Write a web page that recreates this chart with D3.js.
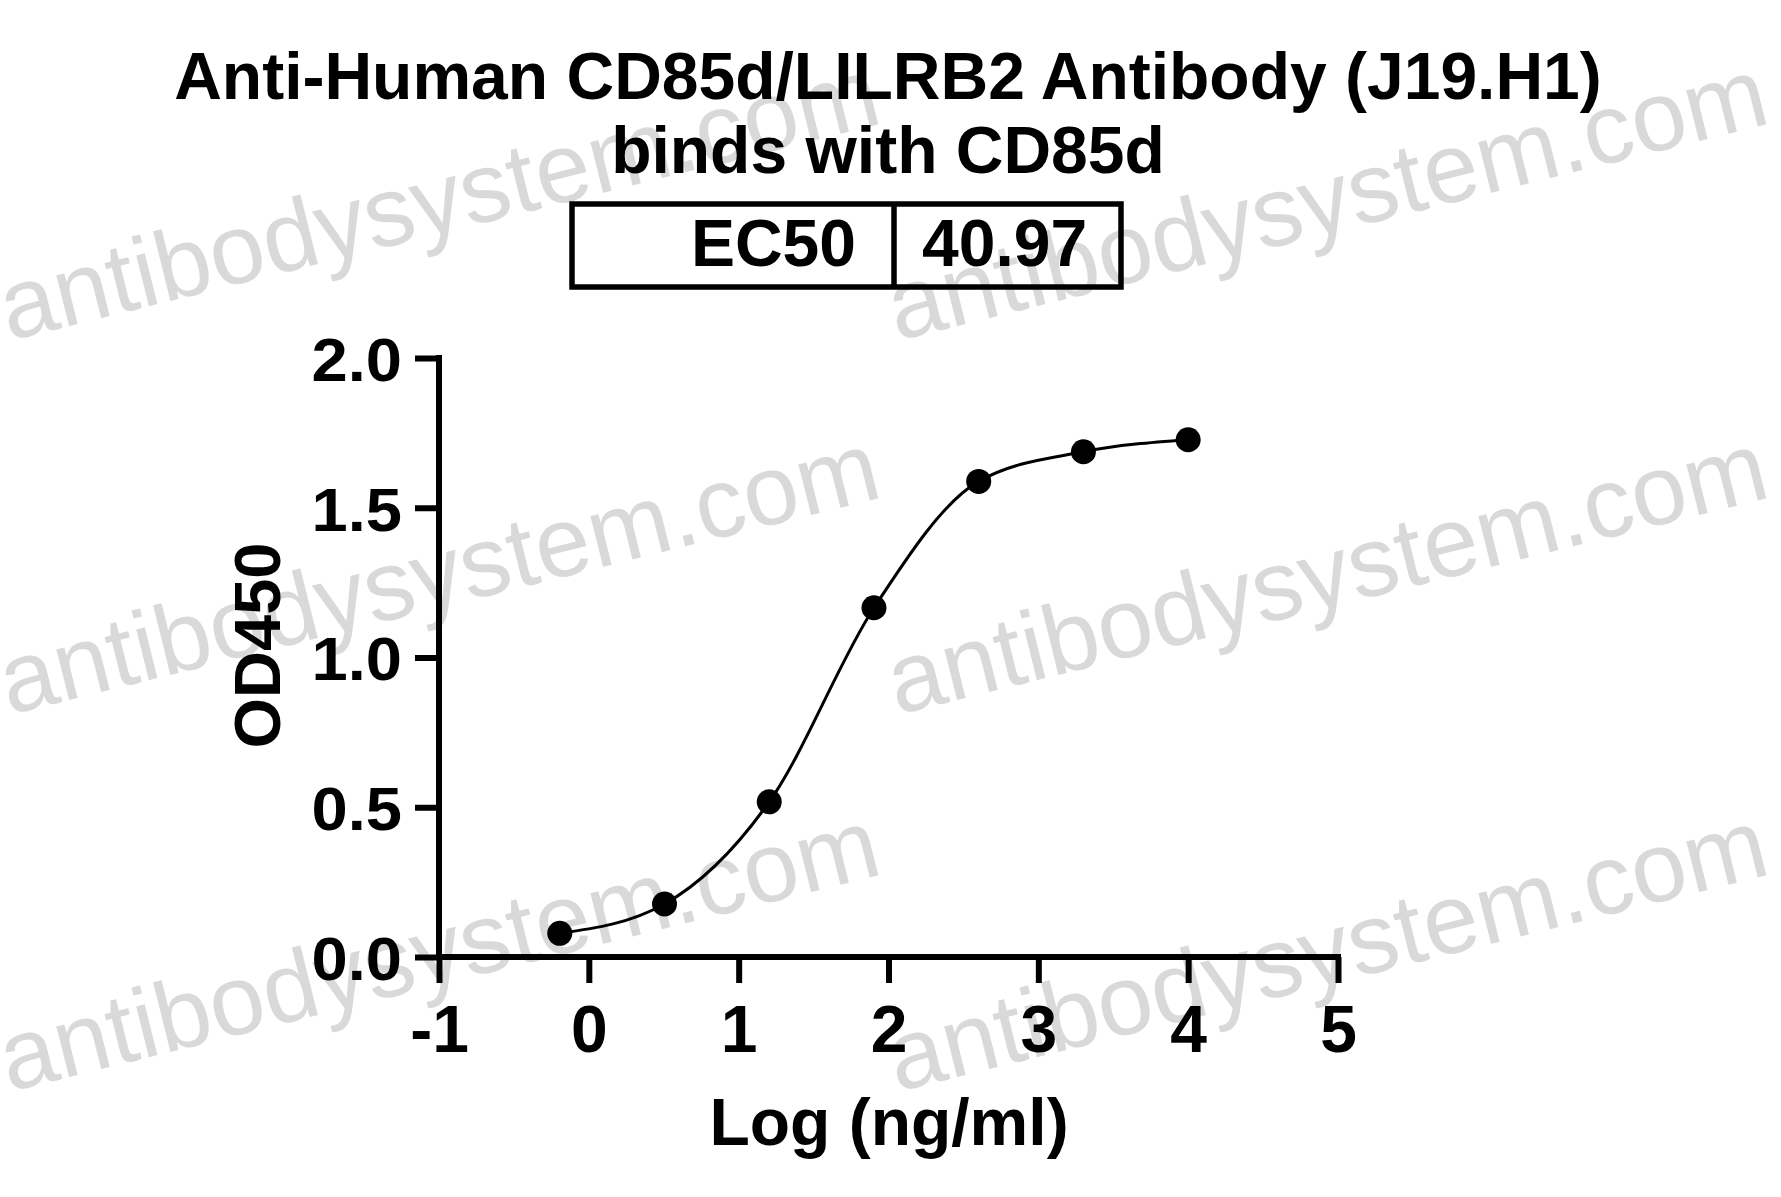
<!DOCTYPE html>
<html>
<head>
<meta charset="utf-8">
<script src="https://cdn.jsdelivr.net/npm/d3@7"></script>
<style>
  html, body { margin: 0; padding: 0; background: #fff; }
  svg { display: block; }
</style>
</head>
<body>
<svg id="chart" width="1781" height="1197"></svg>
<script>
// ---- data ----
const logConc = [-0.194, 0.505, 1.204, 1.903, 2.602, 3.301, 4.0];
const od450 = [0.079, 0.177, 0.518, 1.166, 1.588, 1.687, 1.727];
const xTicks = [-1, 0, 1, 2, 3, 4, 5];
const yTicks = [0.0, 0.5, 1.0, 1.5, 2.0];
const xTickLabels = ["-1", "0", "1", "2", "3", "4", "5"];
const yTickLabels = ["0.0", "0.5", "1.0", "1.5", "2.0"];
const titleLines = ["Anti-Human CD85d/LILRB2 Antibody (J19.H1)", "binds with CD85d"];
const ec50Label = "EC50";
const ec50Value = "40.97";
const xTitle = "Log (ng/ml)";
const yTitle = "OD450";
const watermark = "antibodysystem.com";

const FONT = "'Liberation Sans', Arial, Helvetica, sans-serif";
const svg = d3.select("#chart");
svg.append("rect").attr("width", 1781).attr("height", 1197).attr("fill", "#fff");

// ---- watermarks (background) ----
const wmG = svg.append("g");
[341, 715, 1092].forEach(wy => {
  [9, 897].forEach(wx => {
    wmG.append("text")
      .attr("transform", `translate(${wx},${wy}) rotate(-14)`)
      .attr("font-family", FONT)
      .attr("font-size", 99)
      .attr("fill", "#d9d9d9")
      .text(watermark);
  });
});

// ---- scales ----
const x = d3.scaleLinear().domain([-1, 5]).range([439, 1338]);
const y = d3.scaleLinear().domain([0, 2]).range([957, 358]);

// ---- axes ----
const xAxis = svg.append("g")
  .attr("transform", `translate(0,${y(0)})`)
  .call(d3.axisBottom(x).tickValues(xTicks).tickFormat((d, i) => xTickLabels[i]).tickSize(26).tickSizeOuter(0));
const yAxis = svg.append("g")
  .attr("transform", `translate(${x(-1)},0)`)
  .call(d3.axisLeft(y).tickValues(yTicks).tickFormat((d, i) => yTickLabels[i]).tickSize(24).tickSizeOuter(0));

[xAxis, yAxis].forEach(g => {
  g.select(".domain").attr("stroke", "#000").attr("stroke-width", 6);
  g.selectAll(".tick line").attr("stroke", "#000").attr("stroke-width", 6);
  g.selectAll(".tick text").attr("fill", "#000").attr("font-family", FONT).attr("font-weight", "bold");
});
// extend domains so the corner is closed
xAxis.select(".domain").attr("d", `M${x(-1) - 3},0H${x(5) + 3}`);
yAxis.select(".domain").attr("d", `M0,${y(2) - 3}V${y(0) + 3}`);

xAxis.selectAll(".tick text")
  .attr("font-size", 66)
  .attr("y", 0)
  .attr("dy", 0)
  .attr("transform", "translate(0,95)");
yAxis.selectAll(".tick text")
  .attr("font-size", 62)
  .attr("x", -37)
  .attr("dy", "0.36em")
  .each(function () {
    const w = this.getComputedTextLength();
    d3.select(this).attr("textLength", w * 1.05).attr("lengthAdjust", "spacingAndGlyphs");
  });

// ---- curve and points ----
const pts = logConc.map((c, i) => [c, od450[i]]);
svg.append("path")
  .datum(pts)
  .attr("fill", "none")
  .attr("stroke", "#000")
  .attr("stroke-width", 3)
  .attr("d", d3.line().x(d => x(d[0])).y(d => y(d[1])).curve(d3.curveMonotoneX));
svg.append("g").selectAll("circle")
  .data(pts)
  .join("circle")
  .attr("cx", d => x(d[0]))
  .attr("cy", d => y(d[1]))
  .attr("r", 12.5)
  .attr("fill", "#000");

// ---- titles ----
const titleY = [99, 173];
titleLines.forEach((t, i) => {
  svg.append("text")
    .attr("x", 888)
    .attr("y", titleY[i])
    .attr("text-anchor", "middle")
    .attr("font-family", FONT)
    .attr("font-weight", "bold")
    .attr("font-size", 66)
    .attr("fill", "#000")
    .text(t);
});

// ---- EC50 box ----
const box = svg.append("g");
box.append("rect")
  .attr("x", 572).attr("y", 204)
  .attr("width", 549).attr("height", 83)
  .attr("fill", "none").attr("stroke", "#000").attr("stroke-width", 5.5);
box.append("line")
  .attr("x1", 894).attr("x2", 894).attr("y1", 204).attr("y2", 287)
  .attr("stroke", "#000").attr("stroke-width", 5.5);
box.append("text")
  .attr("x", 856).attr("y", 266)
  .attr("text-anchor", "end")
  .attr("font-family", FONT).attr("font-weight", "bold").attr("font-size", 66)
  .text(ec50Label);
box.append("text")
  .attr("x", 922).attr("y", 266)
  .attr("text-anchor", "start")
  .attr("font-family", FONT).attr("font-weight", "bold").attr("font-size", 66)
  .text(ec50Value);

// ---- axis titles ----
svg.append("text")
  .attr("x", 889).attr("y", 1145)
  .attr("text-anchor", "middle")
  .attr("font-family", FONT).attr("font-weight", "bold").attr("font-size", 66)
  .text(xTitle);
svg.append("text")
  .attr("transform", "translate(280,645.5) rotate(-90)")
  .attr("text-anchor", "middle")
  .attr("font-family", FONT).attr("font-weight", "bold").attr("font-size", 65)
  .text(yTitle);
</script>
</body>
</html>
